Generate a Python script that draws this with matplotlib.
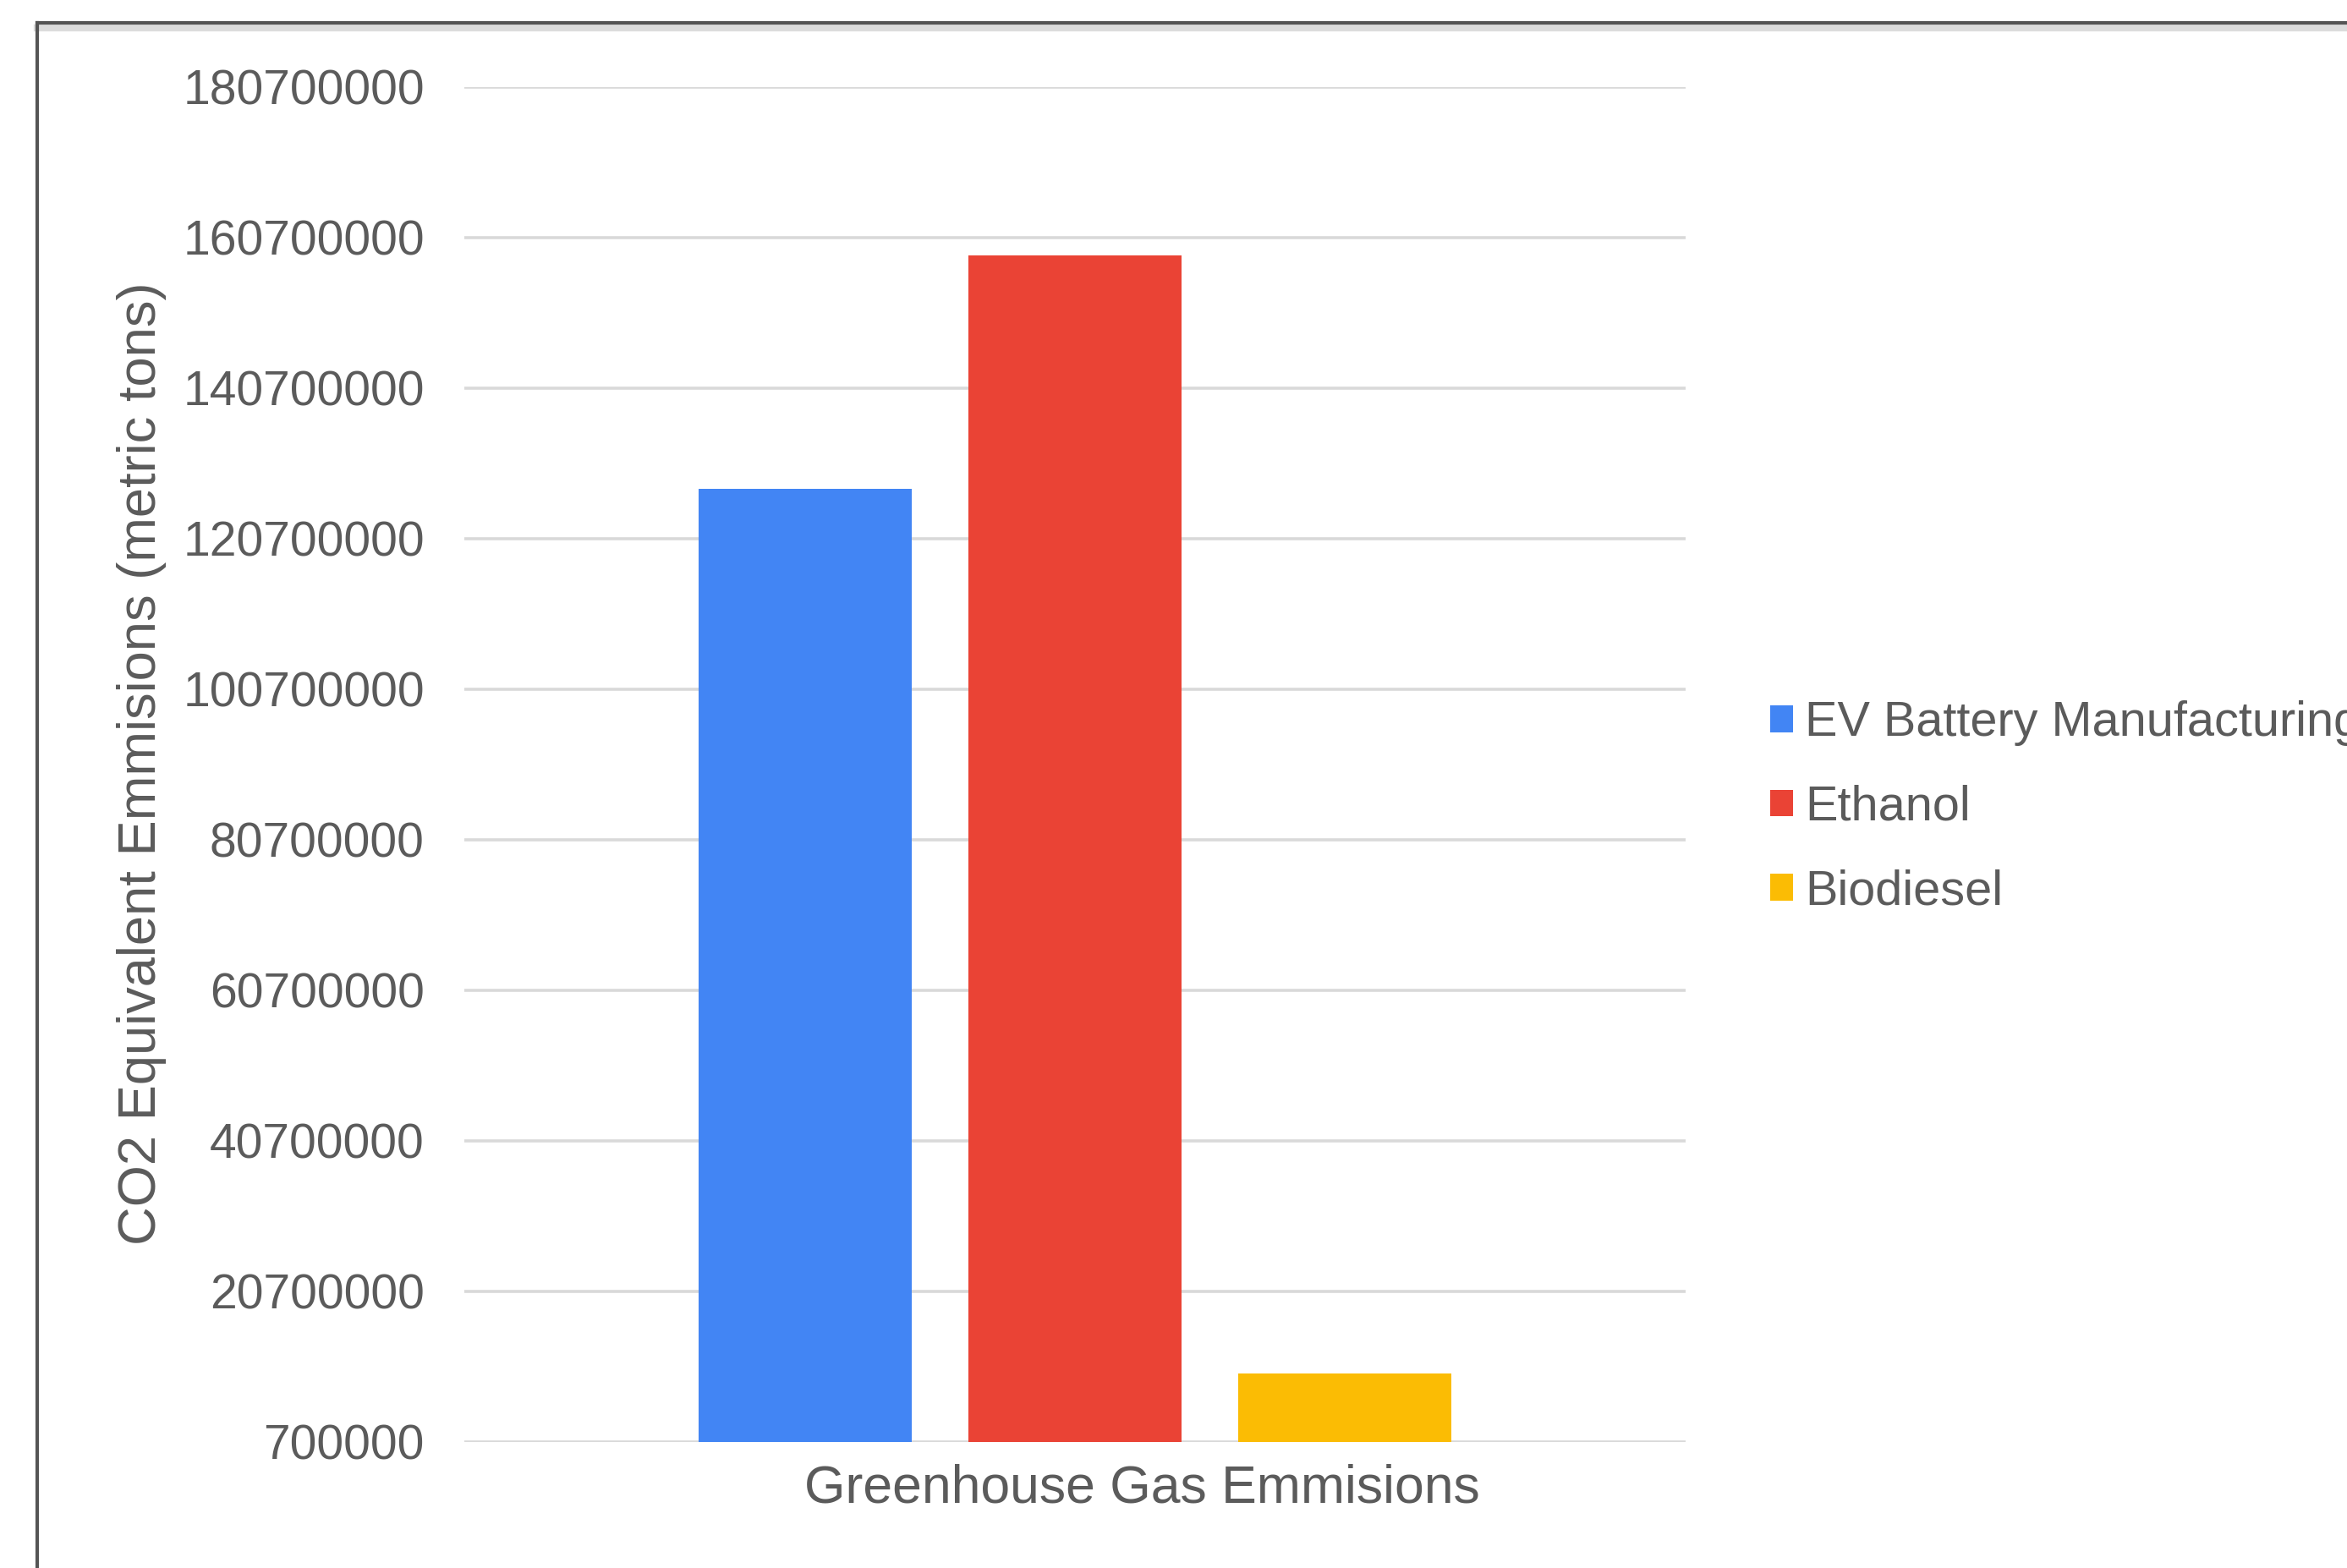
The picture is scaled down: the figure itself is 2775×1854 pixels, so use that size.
import matplotlib.pyplot as plt
from matplotlib.lines import Line2D
from matplotlib.patches import Patch

plt.rcParams['font.family'] = ['Liberation Sans', 'DejaVu Sans']

# emissions per source, metric tons of CO2 equivalent
sources = ['EV Battery Manufacturing', 'Ethanol', 'Biodiesel']
emissions = [127300000, 158300000, 9830000]
colors = ['#4285F4', '#EA4335', '#FBBC04']
positions = [-1, 0, 1]

y_ticks = [700000, 20700000, 40700000, 60700000, 80700000,
           100700000, 120700000, 140700000, 160700000, 180700000]
category = 'Greenhouse Gas Emmisions'
y_title = 'CO2 Equivalent Emmisions (metric tons)'

W, H = 2775, 1854
text_grey = '#5b5b5b'


def fx(px):
    return px / W


def fy(py):
    return 1 - py / H


fig = plt.figure(figsize=(W / 100, H / 100), dpi=100)
ax = fig.add_axes([fx(549), fy(1705), fx(1993) - fx(549), fy(103) - fy(1705)])

ax.bar(positions, emissions, width=0.79, color=colors, zorder=3)
ax.set_xlim(-2.263, 2.263)
ax.set_ylim(y_ticks[0], y_ticks[-1])
ax.set_yticks(y_ticks)
ax.set_yticklabels([str(t) for t in y_ticks])
ax.set_xticks([])
ax.tick_params(axis='y', length=0, pad=34, labelsize=41, labelcolor=text_grey)
ax.grid(axis='y', color='#d9d9d9', linewidth=2.6, zorder=0)
for s in ax.spines.values():
    s.set_visible(False)

ax.text(0.5547, -0.0345, category, transform=ax.transAxes, ha='center', va='center',
        fontsize=45, color=text_grey)
fig.text(fx(168), fy(903), y_title, rotation=90, ha='center', va='center',
         fontsize=45.5, color=text_grey)

handles = [Patch(facecolor=c, edgecolor='none') for c in colors]
ax.legend(handles, sources, loc='center left', bbox_to_anchor=(fx(2093), fy(955)),
          bbox_transform=fig.transFigure, frameon=False, fontsize=41.5,
          handlelength=0.46, handleheight=0.46, handletextpad=0.25,
          labelspacing=0.79, borderpad=0, borderaxespad=0, labelcolor=text_grey)

# chart frame, cut off at the right and bottom edges
fig.add_artist(Line2D([fx(44), 1.0], [fy(33), fy(33)], color='#dcdcdc', linewidth=6,
                      transform=fig.transFigure))
fig.add_artist(Line2D([fx(44), 1.0], [fy(27), fy(27)], color='#555555', linewidth=3,
                      transform=fig.transFigure))
fig.add_artist(Line2D([fx(44), fx(44)], [fy(27), 0.0], color='#555555', linewidth=3,
                      transform=fig.transFigure))

fig.savefig('out.png', dpi=100, facecolor='white')
